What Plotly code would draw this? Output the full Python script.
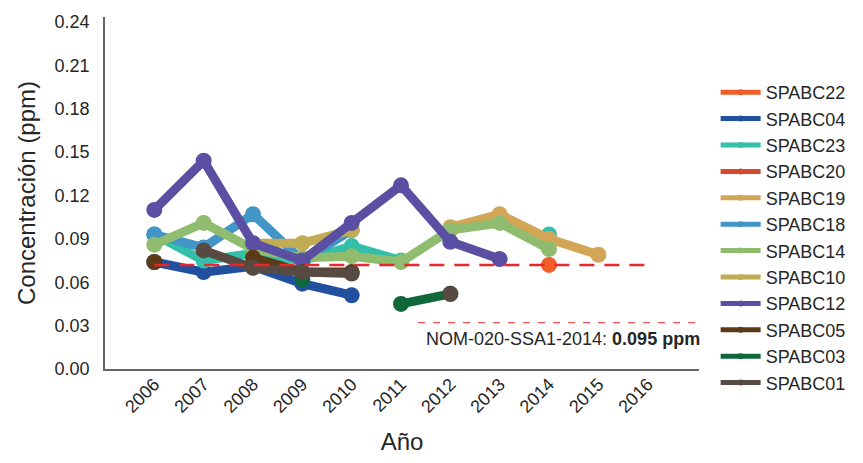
import plotly.graph_objects as go

years = [2006, 2007, 2008, 2009, 2010, 2011, 2012, 2013, 2014, 2015, 2016]

station_names = ["SPABC22", "SPABC04", "SPABC23", "SPABC20", "SPABC19", "SPABC18",
                 "SPABC14", "SPABC10", "SPABC12", "SPABC05", "SPABC03", "SPABC01"]

SPABC22 = [None, None, None, None, None, None, None, None, 0.072, None, None]
SPABC04 = [0.074, 0.067, 0.071, 0.059, 0.051, None, None, None, None, None, None]
SPABC23 = [0.093, 0.075, 0.080, 0.075, 0.085, 0.075, None, None, 0.093, None, None]
SPABC20 = [None, None, None, None, None, None, None, None, None, None, None]
SPABC19 = [None, None, None, None, None, None, 0.098, 0.107, 0.090, 0.079, None]
SPABC18 = [0.093, 0.084, 0.107, 0.075, 0.096, None, None, None, None, None, None]
SPABC14 = [0.086, 0.101, 0.083, 0.077, 0.078, 0.074, 0.096, 0.101, 0.083, None, None]
SPABC10 = [None, None, 0.087, 0.087, 0.096, None, None, None, None, None, None]
SPABC12 = [0.110, 0.144, 0.087, 0.075, 0.101, 0.127, 0.088, 0.076, None, None, None]
SPABC05 = [0.074, None, 0.077, 0.067, 0.067, None, None, None, None, None, None]
SPABC03 = [None, None, None, 0.062, None, 0.045, 0.052, None, None, None, None]
SPABC01 = [None, 0.082, 0.070, 0.067, 0.066, None, 0.052, None, None, None, None]

series_values = [SPABC22, SPABC04, SPABC23, SPABC20, SPABC19, SPABC18,
                 SPABC14, SPABC10, SPABC12, SPABC05, SPABC03, SPABC01]

colors = ["#F05D28", "#21509F", "#34BFA8", "#D4482C", "#D2A557", "#4395C7",
          "#8FBC6F", "#C2AB55", "#5A4FA2", "#5D3A17", "#10673A", "#574A42"]

y_ticks = [0.00, 0.03, 0.06, 0.09, 0.12, 0.15, 0.18, 0.21, 0.24]
y_tick_labels = ["0.00", "0.03", "0.06", "0.09", "0.12", "0.15", "0.18", "0.21", "0.24"]

limit_value = 0.072
note_value = 0.032
note_text = "NOM-020-SSA1-2014: <b>0.095 ppm</b>"

FONT = "Liberation Sans, Arial, sans-serif"
TXT = "#262626"

fig = go.Figure()

for name, vals, col in zip(station_names, series_values, colors):
    fig.add_trace(go.Scatter(
        x=years, y=vals, mode="lines+markers", name=name,
        line=dict(color=col, width=9),
        marker=dict(color=col, size=16),
        showlegend=False, connectgaps=False,
    ))

for name, col in zip(station_names, colors):
    fig.add_trace(go.Scatter(
        x=[None], y=[None], mode="lines+markers", name=name,
        line=dict(color=col, width=5),
        marker=dict(color=col, size=6),
        showlegend=True,
    ))

fig.add_shape(type="line", xref="x", yref="y", x0=2006, x1=2016,
              y0=limit_value, y1=limit_value, layer="above",
              line=dict(color="#E8262C", width=2.5, dash="15px,10px"))
fig.add_shape(type="line", xref="paper", yref="y", x0=0.527, x1=1.005,
              y0=note_value, y1=note_value, layer="above",
              line=dict(color="#E8262C", width=1, dash="7px,8px"))

fig.add_annotation(text=note_text, xref="paper", yref="y", x=1.005, y=note_value,
                   xanchor="right", yanchor="top", yshift=-4, showarrow=False,
                   font=dict(family=FONT, size=18, color=TXT))

fig.update_layout(
    width=863, height=463,
    margin=dict(l=105, r=156, t=17, b=83),
    plot_bgcolor="white", paper_bgcolor="white",
    font=dict(family=FONT, color=TXT, size=18),
    legend=dict(x=1.028, xanchor="left", y=0.838, yanchor="top",
                font=dict(family=FONT, size=18, color=TXT),
                tracegroupgap=0, itemwidth=40, bgcolor="rgba(0,0,0,0)"),
    xaxis=dict(
        range=[2005, 2017.04], tickvals=years, ticktext=[str(y) for y in years],
        tickangle=-45, showgrid=False, zeroline=False,
        showline=True, linecolor="#666666", linewidth=1.5,
        ticks="", ticklabelstandoff=-4, tickfont=dict(family=FONT, size=18, color=TXT),
        title=dict(text="Año", font=dict(family=FONT, size=24, color=TXT), standoff=17),
    ),
    yaxis=dict(
        range=[0, 0.2434], tickvals=y_ticks, ticktext=y_tick_labels,
        showgrid=False, zeroline=False,
        showline=True, linecolor="#666666", linewidth=1.5,
        ticks="", ticklabelstandoff=10, tickfont=dict(family=FONT, size=18, color=TXT),
        title=dict(text="Concentración (ppm)", font=dict(family=FONT, size=24, color=TXT),
                   standoff=12),
    ),
)

fig.write_html("out.html")
